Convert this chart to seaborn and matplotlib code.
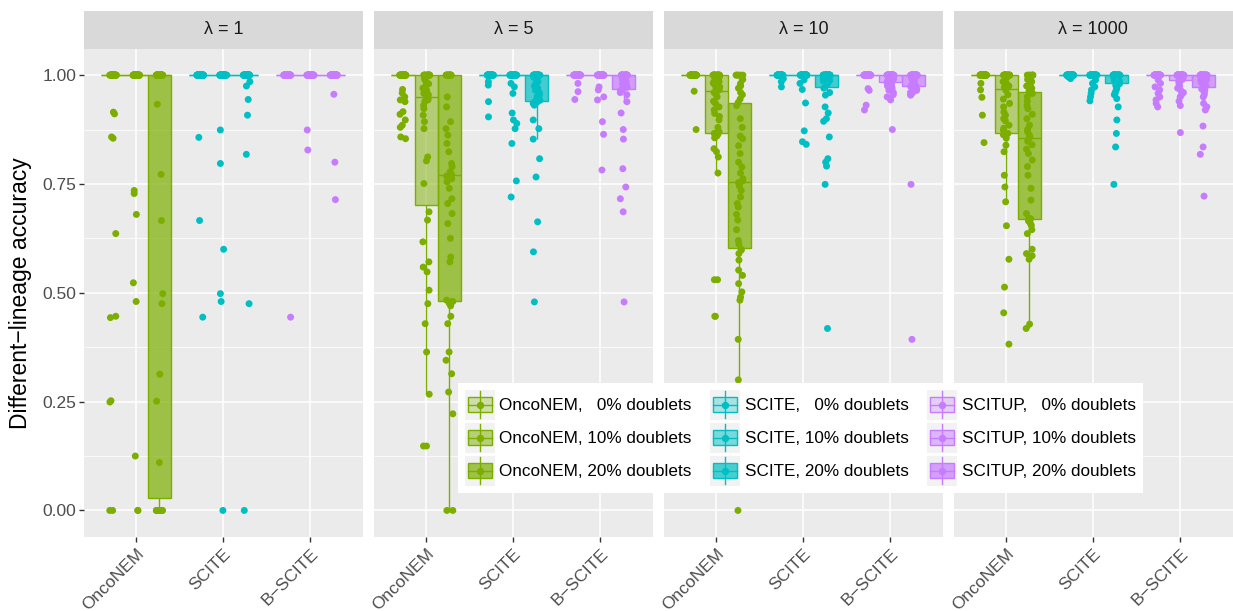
import numpy as np
import pandas as pd
import matplotlib
matplotlib.use("Agg")
import matplotlib.pyplot as plt
import seaborn as sns
from matplotlib.patches import Rectangle, Patch
from matplotlib.lines import Line2D
from matplotlib.legend_handler import HandlerBase
from matplotlib.colors import to_rgba

# facets, methods and doublet rates
lambdas = ["λ = 1", "λ = 5", "λ = 10", "λ = 1000"]
methods = ["OncoNEM", "SCITE", "B\u2212SCITE"]
legend_names = ["OncoNEM", "SCITE", "SCITUP"]
doublets = ["0%", "10%", "20%"]
method_colors = ["#7CAE00", "#00BFC4", "#C77CFF"]
box_alphas = [0.3, 0.5, 0.7]

# different-lineage accuracy per run (50 runs per group)
# lambda = 1
onc_1_0 = [0.915, 0.911, 0.858, 0.855, 0.636, 0.446, 0.443, 0.252, 0.249, 0.0, 0.0] + [1.0] * 39
onc_1_10 = [0.735, 0.728, 0.68, 0.523, 0.48, 0.125, 0.0, 0.0] + [1.0] * 42
onc_1_20 = [0.933, 0.772, 0.666, 0.498, 0.475, 0.313, 0.251, 0.11] + [0.0] * 13 + [1.0] * 29
sci_1_0 = [0.857, 0.666, 0.444] + [1.0] * 47
sci_1_10 = [0.874, 0.797, 0.6, 0.498, 0.48, 0.0] + [1.0] * 44
sci_1_20 = [0.985, 0.975, 0.944, 0.908, 0.818, 0.475, 0.0] + [1.0] * 43
bsc_1_0 = [0.444] + [1.0] * 49
bsc_1_10 = [0.874, 0.828] + [1.0] * 48
bsc_1_20 = [0.956, 0.8, 0.714] + [1.0] * 47

# lambda = 5
onc_5_0 = [0.967, 0.959, 0.950, 0.943, 0.939, 0.916, 0.910, 0.897, 0.885, 0.880,
           0.858, 0.854] + [1.0] * 38
onc_5_10 = [0.148, 0.148, 0.267, 0.364, 0.429, 0.475, 0.506, 0.548, 0.559, 0.571,
            0.617, 0.667, 0.686, 0.751, 0.803, 0.812, 0.877, 0.893, 0.908, 0.923,
            0.930, 0.940, 0.943, 0.945, 0.948, 0.950, 0.955, 0.958, 0.965, 0.970,
            0.977, 0.980, 0.985, 0.990, 0.993, 0.996] + [1.0] * 14
onc_5_20 = [0.0, 0.0, 0.222, 0.272, 0.314, 0.345, 0.364, 0.429, 0.446, 0.470,
            0.476, 0.479, 0.480, 0.483, 0.571, 0.582, 0.625, 0.659, 0.682, 0.705,
            0.716, 0.740, 0.755, 0.762, 0.768, 0.772, 0.778, 0.790, 0.797, 0.824,
            0.843, 0.862, 0.877, 0.893, 0.927, 0.950] + [1.0] * 14
sci_5_0 = [0.985, 0.977, 0.939, 0.904] + [1.0] * 46
sci_5_10 = [0.981, 0.973, 0.958, 0.913, 0.897, 0.889, 0.877, 0.843, 0.757, 0.720] + [1.0] * 40
sci_5_20 = [0.479, 0.594, 0.663, 0.766, 0.808, 0.853, 0.877, 0.897, 0.931, 0.935,
            0.937, 0.939, 0.940, 0.942, 0.95, 0.955, 0.96, 0.965, 0.97, 0.975,
            0.98, 0.985, 0.99, 0.995] + [1.0] * 26
bsc_5_0 = [0.981, 0.962, 0.944] + [1.0] * 47
bsc_5_10 = [0.973, 0.966, 0.950, 0.943, 0.893, 0.864, 0.782] + [1.0] * 43
bsc_5_20 = [0.479, 0.686, 0.716, 0.743, 0.785, 0.853, 0.875, 0.913, 0.939, 0.955,
            0.960, 0.965, 0.968, 0.972, 0.975, 0.978, 0.98, 0.983, 0.985, 0.988,
            0.99, 0.993, 0.995, 0.998] + [1.0] * 26

# lambda = 10
onc_10_0 = [0.963, 0.875] + [1.0] * 48
onc_10_10 = [0.446, 0.446, 0.530, 0.530, 0.775, 0.812, 0.824, 0.831, 0.856, 0.860,
             0.864, 0.866, 0.867, 0.870, 0.880, 0.897, 0.905, 0.912, 0.920, 0.927,
             0.935, 0.940, 0.950, 0.955, 0.960, 0.966, 0.970, 0.973, 0.978, 0.982,
             0.985, 0.990, 0.995] + [1.0] * 17
onc_10_20 = [0.0, 0.30, 0.393, 0.483, 0.49, 0.502, 0.521, 0.54, 0.552, 0.575,
             0.59, 0.598, 0.600, 0.612, 0.62, 0.645, 0.667, 0.68, 0.697, 0.705,
             0.72, 0.735, 0.745, 0.75, 0.753, 0.757, 0.762, 0.775, 0.789, 0.80,
             0.82, 0.838, 0.854, 0.86, 0.88, 0.90, 0.93, 0.937, 0.945, 0.955,
             0.96, 0.97, 0.975, 0.98, 0.99] + [1.0] * 5
sci_10_0 = [0.992, 0.985, 0.973] + [1.0] * 47
sci_10_10 = [0.989, 0.981, 0.967, 0.936, 0.872, 0.847, 0.841] + [1.0] * 43
sci_10_20 = [0.418, 0.749, 0.791, 0.80, 0.808, 0.858, 0.894, 0.90, 0.913, 0.927,
             0.954, 0.96, 0.97, 0.98, 0.982, 0.984, 0.986, 0.988, 0.99, 0.992,
             0.994, 0.996, 0.998] + [1.0] * 27
bsc_10_0 = [0.969, 0.965, 0.931, 0.920] + [1.0] * 46
bsc_10_10 = [0.875, 0.943, 0.95, 0.955, 0.96, 0.965, 0.97, 0.975, 0.978, 0.98,
             0.982, 0.984, 0.985, 0.986, 0.988, 0.99, 0.992, 0.994, 0.996] + [1.0] * 31
bsc_10_20 = [0.393, 0.749, 0.954, 0.955, 0.96, 0.962, 0.965, 0.967, 0.969, 0.97,
             0.972, 0.974, 0.975, 0.976, 0.978, 0.98, 0.983, 0.985, 0.988, 0.99,
             0.993, 0.996] + [1.0] * 28

# lambda = 1000
onc_1000_0 = [0.981, 0.966, 0.949, 0.908, 0.845] + [1.0] * 45
onc_1000_10 = [0.382, 0.454, 0.513, 0.577, 0.654, 0.709, 0.743, 0.770, 0.824, 0.839,
               0.855, 0.863, 0.866, 0.874, 0.878, 0.885, 0.895, 0.90, 0.908, 0.915,
               0.927, 0.935, 0.945, 0.955, 0.965, 0.972, 0.975, 0.981, 0.985, 0.99,
               0.995] + [1.0] * 19
onc_1000_20 = [0.418, 0.428, 0.577, 0.585, 0.59, 0.60, 0.636, 0.645, 0.655, 0.66,
               0.665, 0.668, 0.67, 0.672, 0.682, 0.713, 0.74, 0.77, 0.79, 0.805,
               0.82, 0.83, 0.84, 0.848, 0.854, 0.858, 0.862, 0.87, 0.875, 0.885,
               0.90, 0.91, 0.923, 0.93, 0.94, 0.95, 0.958, 0.963, 0.965, 0.97,
               0.975, 0.98, 0.985, 0.99] + [1.0] * 6
sci_1000_0 = [0.996, 0.992] + [1.0] * 48
sci_1000_10 = [0.989, 0.981, 0.973, 0.966, 0.958, 0.950, 0.941] + [1.0] * 43
sci_1000_20 = [0.749, 0.835, 0.866, 0.897, 0.927, 0.946, 0.955, 0.96, 0.965, 0.97,
               0.975, 0.978, 0.98, 0.984, 0.986, 0.988, 0.99, 0.992, 0.994, 0.996] + [1.0] * 30
bsc_1000_0 = [0.989, 0.981, 0.973, 0.966, 0.958, 0.950, 0.943, 0.935, 0.927] + [1.0] * 41
bsc_1000_10 = [0.868, 0.93, 0.94, 0.95, 0.955, 0.96, 0.965, 0.97, 0.975, 0.98,
               0.985, 0.987, 0.988, 0.99, 0.992, 0.994, 0.996] + [1.0] * 33
bsc_1000_20 = [0.722, 0.818, 0.835, 0.883, 0.92, 0.927, 0.935, 0.95, 0.955, 0.96,
               0.965, 0.968, 0.971, 0.975, 0.978, 0.98, 0.983, 0.985, 0.988, 0.99,
               0.993, 0.996] + [1.0] * 28

groups = {
    "λ = 1": [[onc_1_0, onc_1_10, onc_1_20], [sci_1_0, sci_1_10, sci_1_20], [bsc_1_0, bsc_1_10, bsc_1_20]],
    "λ = 5": [[onc_5_0, onc_5_10, onc_5_20], [sci_5_0, sci_5_10, sci_5_20], [bsc_5_0, bsc_5_10, bsc_5_20]],
    "λ = 10": [[onc_10_0, onc_10_10, onc_10_20], [sci_10_0, sci_10_10, sci_10_20], [bsc_10_0, bsc_10_10, bsc_10_20]],
    "λ = 1000": [[onc_1000_0, onc_1000_10, onc_1000_20], [sci_1000_0, sci_1000_10, sci_1000_20],
                 [bsc_1000_0, bsc_1000_10, bsc_1000_20]],
}

rows = []
for lam in lambdas:
    for m, per_method in zip(methods, groups[lam]):
        for d, vals in zip(doublets, per_method):
            for v in vals:
                rows.append((lam, m, d, v))
df = pd.DataFrame(rows, columns=["lambda", "method", "doublets", "accuracy"])

plt.rcParams["font.family"] = ["Liberation Sans", "DejaVu Sans"]
np.random.seed(3)

W, H = 1233, 611
fig = plt.figure(figsize=(W / 100, H / 100), dpi=100)
panel_left = [84, 374, 664, 954]
panel_w, top_px, bot_px = 278.7, 49, 537
strip_h = 38

tick_col = "#4D4D4D"
for i, lam in enumerate(lambdas):
    ax = fig.add_axes([panel_left[i] / W, (H - bot_px) / H, panel_w / W, (bot_px - top_px) / H])
    ax.set_facecolor("#EBEBEB")
    sub_lam = df[df["lambda"] == lam]
    for m, col in zip(methods, method_colors):
        sub = sub_lam[sub_lam["method"] == m]
        pal = {d: col for d in doublets}
        n_before = len(ax.patches)
        sns.boxplot(data=sub, x="method", y="accuracy", hue="doublets", order=methods,
                    hue_order=doublets, palette=pal, saturation=1, linecolor=col,
                    linewidth=1.0, width=0.8, dodge=True, showfliers=False,
                    showcaps=False, legend=False, ax=ax)
        # lighter fill for lower doublet rates
        for p, a in zip(ax.patches[n_before:], box_alphas):
            p.set_facecolor(to_rgba(col, a))
            p.set_edgecolor(col)
        sns.stripplot(data=sub, x="method", y="accuracy", hue="doublets", order=methods,
                      hue_order=doublets, palette=pal, dodge=True, jitter=0.12,
                      size=5, linewidth=0, legend=False, ax=ax, zorder=3)
    ax.set_xlim(-0.6, 2.6)
    ax.set_ylim(-0.061, 1.06)
    ax.set_yticks([0, 0.25, 0.5, 0.75, 1.0])
    ax.set_yticks([0.125, 0.375, 0.625, 0.875], minor=True)
    ax.set_xticks(range(3))
    ax.set_xticklabels(methods, rotation=45, ha="right", rotation_mode="anchor",
                       fontsize=12.5, color=tick_col)
    ax.grid(which="major", color="white", linewidth=1.1, zorder=0)
    ax.grid(which="minor", axis="y", color="white", linewidth=0.55, zorder=0)
    ax.set_axisbelow(True)
    ax.tick_params(axis="x", length=3.5, width=1, color="#333333", pad=3)
    ax.tick_params(axis="y", which="minor", length=0)
    if i == 0:
        ax.set_yticklabels(["0.00", "0.25", "0.50", "0.75", "1.00"], fontsize=12.5, color=tick_col)
        ax.tick_params(axis="y", which="major", length=3.5, width=1, color="#333333", pad=2)
    else:
        ax.tick_params(axis="y", which="major", length=0, labelleft=False)
    ax.set_xlabel("")
    ax.set_ylabel("")
    for s in ax.spines.values():
        s.set_visible(False)
    # facet strip
    sh = strip_h / (bot_px - top_px)
    ax.add_patch(Rectangle((0, 1), 1, sh, transform=ax.transAxes, clip_on=False,
                           facecolor="#D9D9D9", edgecolor="none"))
    ax.text(0.5, 1 + sh / 2, lam, transform=ax.transAxes, ha="center", va="center",
            fontsize=13, color="#1A1A1A")

fig.text(0.017, (H - (top_px + bot_px) / 2) / H, "Different\u2212lineage accuracy",
         rotation=90, ha="center", va="center", fontsize=16.5)


class BoxKey(HandlerBase):
    def create_artists(self, legend, orig_handle, xdescent, ydescent, width, height, fontsize, trans):
        face = orig_handle.get_facecolor()
        edge = orig_handle.get_edgecolor()
        x0, y0 = -xdescent, -ydescent
        bg = Rectangle((x0, y0), width, height, facecolor="#F2F2F2", edgecolor="none", transform=trans)
        cx = x0 + width / 2
        wh = Line2D([cx, cx], [y0 + 0.05 * height, y0 + 0.95 * height], color=edge, lw=1, transform=trans)
        box = Rectangle((x0 + 0.1 * width, y0 + 0.25 * height), 0.8 * width, 0.5 * height,
                        facecolor=face, edgecolor=edge, lw=1, transform=trans)
        med = Line2D([x0 + 0.1 * width, x0 + 0.9 * width], [y0 + height / 2] * 2, color=edge, lw=1,
                     transform=trans)
        pt = Line2D([cx], [y0 + height / 2], marker="o", ms=4.3, color=edge, lw=0, transform=trans)
        return [bg, wh, box, med, pt]


handles, labels = [], []
for name, col in zip(legend_names, method_colors):
    for d, a in zip(doublets, box_alphas):
        handles.append(Patch(facecolor=to_rgba(col, a), edgecolor=col))
        labels.append(f"{name}, {d.rjust(3, chr(0x2007))} doublets")

fig.legend(handles, labels, ncol=3, loc="upper left",
           bbox_to_anchor=(458 / W, (H - 383) / H), frameon=True, facecolor="white",
           framealpha=1, edgecolor="none", fancybox=False, fontsize=12.3, handlelength=1.76,
           handleheight=2.32, labelspacing=0.18, handletextpad=0.25, columnspacing=1.1,
           borderpad=0.4, borderaxespad=0, handler_map={Patch: BoxKey()})

fig.savefig("out.png", dpi=100)
